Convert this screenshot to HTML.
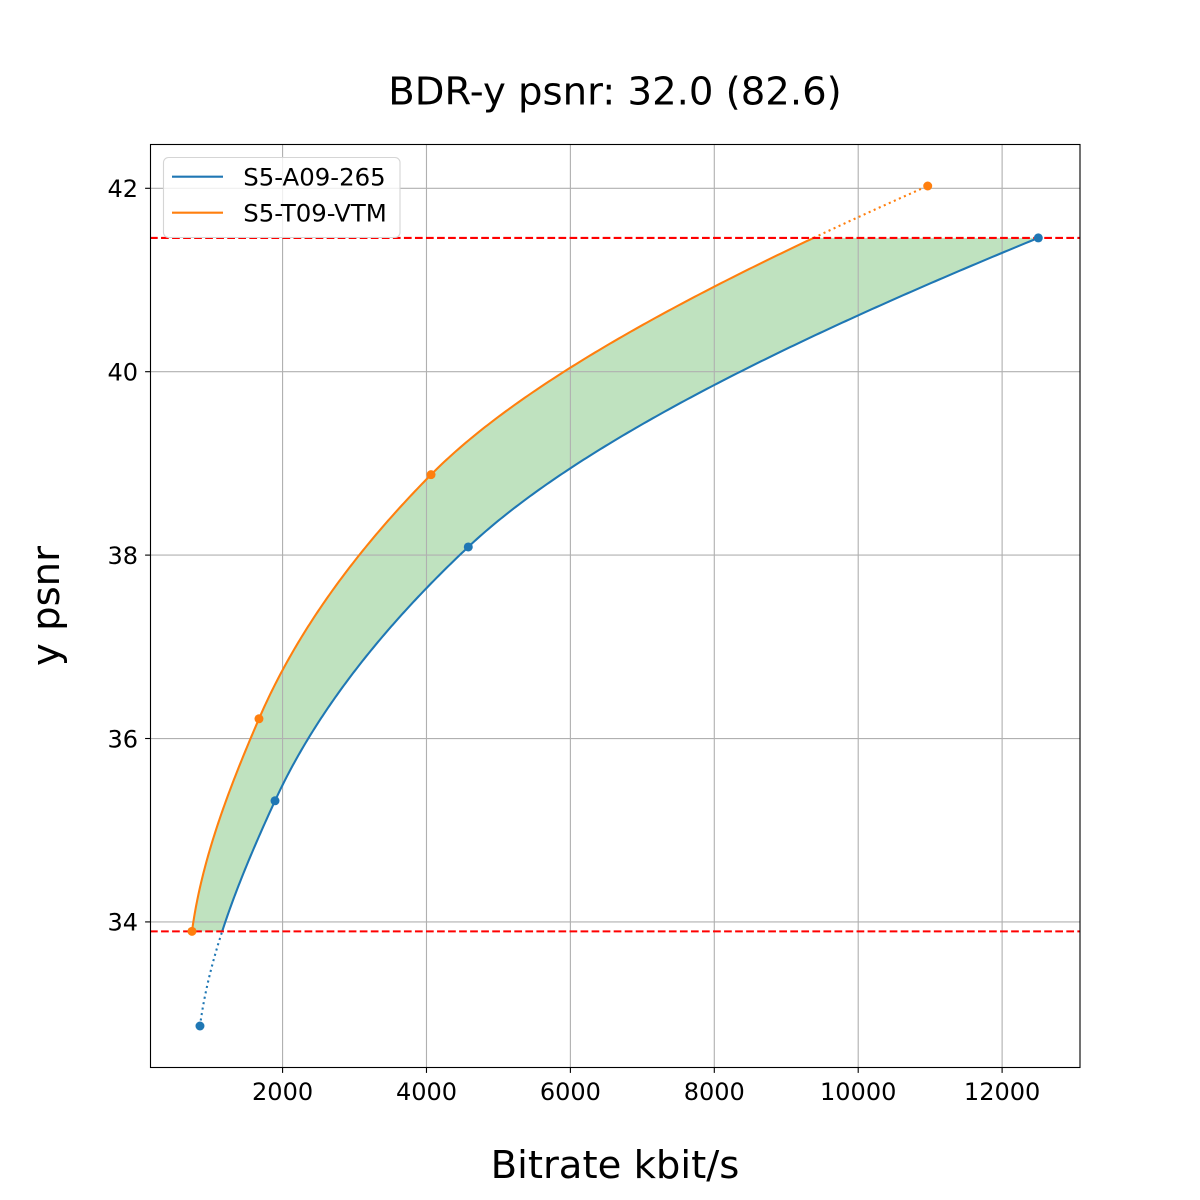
<!DOCTYPE html>
<html>
<head>
<meta charset="utf-8">
<style>
  html,body{margin:0;padding:0;background:#fff;}
  svg{display:block;}
  text{font-family:"DejaVu Sans","Liberation Sans",sans-serif;fill:#000;}
</style>
</head>
<body>
<svg id="chart" xmlns="http://www.w3.org/2000/svg" width="1200" height="1200" viewBox="0 0 1200 1200">
  <rect x="0" y="0" width="1200" height="1200" fill="#fff"/>
  <g id="fill"></g>
  <g id="grid" stroke="#b0b0b0" stroke-width="1.11" fill="none"></g>
  <g id="lines" fill="none"></g>
  <g id="marks"></g>
  <g id="ticks" stroke="#000" stroke-width="1.11"></g>
  <g id="ticklabels" font-size="24"></g>
  <rect x="150.5" y="144.5" width="929.5" height="923" fill="none" stroke="#000" stroke-width="1.11"/>
  <!-- legend -->
  <g>
    <rect x="163.5" y="157.5" width="236.5" height="80" rx="5" ry="5" fill="#fff" fill-opacity="0.8" stroke="#d5d5d5" stroke-width="1.11"/>
    <line x1="172" y1="176.7" x2="223" y2="176.7" stroke="#1f77b4" stroke-width="2.08"/>
    <line x1="172" y1="212.7" x2="223" y2="212.7" stroke="#ff7f0e" stroke-width="2.08"/>
    <text x="243.3" y="185.7" font-size="24.4">S5-A09-265</text>
    <text x="243.3" y="221.7" font-size="24.4">S5-T09-VTM</text>
  </g>
  <text x="615" y="104.3" font-size="38.6" text-anchor="middle">BDR-y psnr: 32.0 (82.6)</text>
  <text x="615" y="1178" font-size="38.6" text-anchor="middle">Bitrate kbit/s</text>
  <text transform="translate(59,606) rotate(-90)" font-size="38.6" text-anchor="middle">y psnr</text>
</svg>
<script>
(function(){
  var NS="http://www.w3.org/2000/svg";
  var xmin=157.5, xmax=13082.5, ymin=32.407, ymax=42.483;
  function X(r){return 150+(r-xmin)*930/(xmax-xmin);}
  function Y(v){return 144+(ymax-v)*924/(ymax-ymin);}
  function el(tag,attrs,parent){var e=document.createElementNS(NS,tag);for(var k in attrs)e.setAttribute(k,attrs[k]);parent.appendChild(e);return e;}

  function pchip(xs,ys){
    var n=xs.length,h=[],d=[],m=[],i;
    for(i=0;i<n-1;i++){h[i]=xs[i+1]-xs[i];d[i]=(ys[i+1]-ys[i])/h[i];}
    for(var k=1;k<n-1;k++){
      if(d[k-1]*d[k]<=0){m[k]=0;}
      else{var w1=2*h[k]+h[k-1],w2=h[k]+2*h[k-1];m[k]=(w1+w2)/(w1/d[k-1]+w2/d[k]);}
    }
    function edge(h0,h1,d0,d1){
      var mm=((2*h0+h1)*d0-h0*d1)/(h0+h1);
      if(Math.sign(mm)!=Math.sign(d0))mm=0;
      else if(Math.sign(d0)!=Math.sign(d1)&&Math.abs(mm)>3*Math.abs(d0))mm=3*d0;
      return mm;
    }
    m[0]=edge(h[0],h[1],d[0],d[1]);
    m[n-1]=edge(h[n-2],h[n-3],d[n-2],d[n-3]);
    return function(x){
      var k=0;while(k<n-2&&x>xs[k+1])k++;
      var t=(x-xs[k])/h[k],t2=t*t,t3=t2*t;
      return (2*t3-3*t2+1)*ys[k]+(t3-2*t2+t)*h[k]*m[k]+(-2*t3+3*t2)*ys[k+1]+(t3-t2)*h[k]*m[k+1];
    };
  }

  var blue={p:[32.865,35.321,38.089,41.459],r:[852,1895,4581,12503]};
  var orng={p:[33.897,36.215,38.877,42.025],r:[741,1672,4063,10966]};
  var fb=pchip(blue.p,blue.r), fo=pchip(orng.p,orng.r);
  var lo=33.897, hi=41.459;

  function samples(f,a,b,N){var pts=[];for(var i=0;i<=N;i++){var v=a+(b-a)*i/N;pts.push([X(f(v)),Y(v)]);}return pts;}
  function path(pts){return "M"+pts.map(function(p){return p[0].toFixed(2)+","+p[1].toFixed(2);}).join(" L");}

  // fill
  var up=samples(fo,lo,hi,300), dn=samples(fb,lo,hi,300).reverse();
  el("path",{d:path(up.concat(dn))+" Z",fill:"#2ca02c","fill-opacity":"0.3",stroke:"none"},document.getElementById("fill"));

  // grid
  var g=document.getElementById("grid");
  var xt=[2000,4000,6000,8000,10000,12000], yt=[34,36,38,40,42];
  xt.forEach(function(t){var x=X(t);el("line",{x1:x,y1:144,x2:x,y2:1068},g);});
  yt.forEach(function(t){var y=Y(t);el("line",{x1:150,y1:y,x2:1080,y2:y},g);});

  // lines
  var L=document.getElementById("lines");
  el("path",{d:path(samples(fb,blue.p[0],lo,60)),stroke:"#1f77b4","stroke-width":"2.08","stroke-dasharray":"2.08,3.44"},L);
  el("path",{d:path(samples(fb,lo,hi,400)),stroke:"#1f77b4","stroke-width":"2.08"},L);
  el("path",{d:path(samples(fo,lo,hi,400)),stroke:"#ff7f0e","stroke-width":"2.08"},L);
  el("path",{d:path(samples(fo,hi,orng.p[3],60)),stroke:"#ff7f0e","stroke-width":"2.08","stroke-dasharray":"2.08,3.44"},L);
  // red dashed lines
  el("line",{x1:150,y1:Y(hi),x2:1080,y2:Y(hi),stroke:"#ff0000","stroke-width":"2.08","stroke-dasharray":"7.71,3.33"},L);
  el("line",{x1:150,y1:Y(lo),x2:1080,y2:Y(lo),stroke:"#ff0000","stroke-width":"2.08","stroke-dasharray":"7.71,3.33"},L);

  // markers
  var M=document.getElementById("marks");
  for(var i=0;i<4;i++){
    el("circle",{cx:X(blue.r[i]),cy:Y(blue.p[i]),r:4.5,fill:"#1f77b4"},M);
    el("circle",{cx:X(orng.r[i]),cy:Y(orng.p[i]),r:4.5,fill:"#ff7f0e"},M);
  }

  // ticks & labels
  var T=document.getElementById("ticks"), TL=document.getElementById("ticklabels");
  xt.forEach(function(t){var x=X(t);el("line",{x1:x,y1:1068,x2:x,y2:1072.9},T);
    var tx=el("text",{x:x,y:1100,"text-anchor":"middle"},TL);tx.textContent=String(t);});
  yt.forEach(function(t){var y=Y(t);el("line",{x1:145.1,y1:y,x2:150,y2:y},T);
    var tx=el("text",{x:138,y:y+8.8,"text-anchor":"end"},TL);tx.textContent=String(t);});
})();
</script>
</body>
</html>
